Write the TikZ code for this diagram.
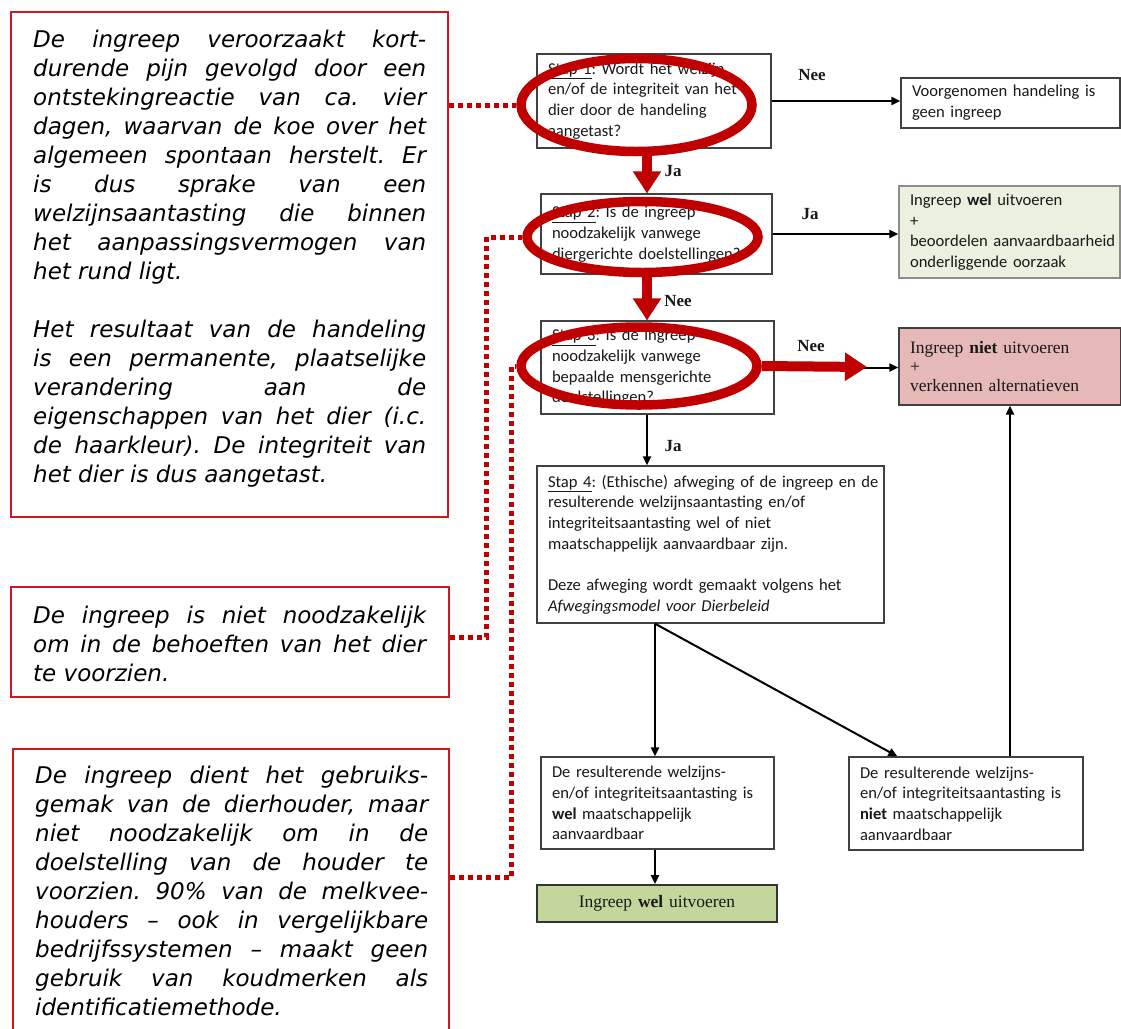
\documentclass[tikz,border=0pt]{standalone}
\usepackage{fontspec}
\setmainfont{Carlito}
\newfontfamily\carlito{Carlito}
\newfontfamily\lserif{Liberation Serif}
\newfontfamily\dvs{DejaVu Sans}
\usetikzlibrary{arrows.meta,shapes.geometric,calc}
\definecolor{dred}{RGB}{192,0,0}
\definecolor{bred}{RGB}{206,24,30}
\definecolor{lgreen}{RGB}{235,241,222}
\definecolor{mgreen}{RGB}{195,214,155}
\definecolor{pinkfill}{RGB}{230,184,183}
\definecolor{txt}{RGB}{25,25,25}
\frenchspacing
\begin{document}
\begin{tikzpicture}[x=1pt,y=-1pt,
  fbox/.style={draw=black!75, line width=1.3pt, text=txt,
    font=\frenchspacing\carlito\fontsize{16.6}{20.7}\selectfont, align=left,
    inner xsep=11pt, inner ysep=0pt, anchor=center},
  lbox/.style={draw=bred, line width=1.8pt, inner sep=0pt, anchor=center},
  ltxt/.style={font=\frenchspacing\dvs\itshape\fontsize{23}{29}\selectfont, text=black,
    text width=393pt, align=justify, inner sep=0pt, anchor=base west},
  arr/.style={draw=black, line width=2pt, -{Triangle[length=9pt,width=8pt]}},
  rarr/.style={draw=dred, line width=10pt, -{Triangle[length=22pt,width=27pt]}},
  ell/.style={ellipse, draw=dred, line width=9.5pt, inner sep=0pt},
  dotc/.style={draw=dred, line width=5pt, dash pattern=on 5pt off 4pt},
  lab/.style={font=\lserif\bfseries\fontsize{17}{19}\selectfont, text=txt, inner sep=0pt}
]
\useasboundingbox (0,0) rectangle (1121,1028);
\fill[white] (0,0) rectangle (1121,1028);

% ---------- left explanation boxes ----------
\node[lbox, minimum width=437pt, minimum height=505pt] (b1) at (229.5,264.5) {};
\node[lbox, minimum width=438pt, minimum height=110pt] (b2) at (230,642) {};
\node[lbox, minimum width=436pt, minimum height=296pt] (b3) at (231,897) {};

\node[ltxt] (t1) at (33,47) {\hyphenpenalty10000 \tolerance10000 \hbadness10000
De ingreep veroorzaakt kort-\linebreak durende pijn gevolgd door een\linebreak
ontstekingreactie van ca. vier\linebreak dagen, waarvan de koe over het\linebreak
algemeen spontaan herstelt. Er\linebreak is dus sprake van een\linebreak
welzijnsaantasting die binnen\linebreak het aanpassingsvermogen van\linebreak
het rund ligt.\par\mbox{}\par
Het resultaat van de handeling\linebreak is een permanente, plaatselijke\linebreak
verandering aan de\linebreak eigenschappen van het dier (i.c.\linebreak
de haarkleur). De integriteit van\linebreak het dier is dus aangetast.};

\node[ltxt] (t2) at (33,623) {\hyphenpenalty10000 \tolerance10000 \hbadness10000
De ingreep is niet noodzakelijk\linebreak om in de behoeften van het dier\linebreak
te voorzien.};

\node[ltxt] (t3) at (35,783) {\hyphenpenalty10000 \tolerance10000 \hbadness10000
De ingreep dient het gebruiks-\linebreak gemak van de dierhouder, maar\linebreak
niet noodzakelijk om in de\linebreak doelstelling van de houder te\linebreak
voorzien. 90\% van de melkvee-\linebreak houders – ook in vergelijkbare\linebreak
bedrijfssystemen – maakt geen\linebreak gebruik van koudmerken als\linebreak
identificatiemethode.};

% ---------- flowchart boxes ----------
\node[fbox, text width=212pt, minimum height=94pt] (s1) at (654,101)
  {\underline{Stap 1}: Wordt het welzijn\\en/of de integriteit van het\\dier door de handeling\\aangetast?};
\node[fbox, text width=209pt, minimum height=80pt] (s2) at (656.5,234)
  {\underline{Stap 2}: Is de ingreep\\noodzakelijk vanwege\\diergerichte doelstellingen?};
\node[fbox, text width=211pt, minimum height=93pt] (s3) at (657.5,367.5)
  {\underline{Stap 3}: Is de ingreep\\noodzakelijk vanwege\\bepaalde mensgerichte\\doelstellingen?};
\node[fbox, text width=325pt, minimum height=157pt] (s4) at (710.5,544.5)
  {\mbox{\underline{Stap 4}: (Ethische) afweging of de ingreep en de}\\resulterende welzijnsaantasting en/of\\integriteitsaantasting wel of niet\\maatschappelijk aanvaardbaar zijn.\\[20.7pt]Deze afweging wordt gemaakt volgens het\\\textit{Afwegingsmodel voor Dierbeleid}};

\node[fbox, text width=197pt, minimum height=50pt] (vg) at (1010.5,103)
  {Voorgenomen handeling is\\geen ingreep};
\node[fbox, fill=lgreen, draw=black!45, text width=199pt, minimum height=92pt] (gr) at (1009.5,232)
  {Ingreep \textbf{wel} uitvoeren\\+\\\leavevmode\rlap{beoordelen aanvaardbaarheid}\\onderliggende oorzaak};
\node[fbox, fill=pinkfill, text width=200pt, minimum height=77pt,
  font=\lserif\fontsize{17.5}{19}\selectfont] (rd) at (1010,366.5)
  {Ingreep \textbf{niet} uitvoeren\\+\\verkennen alternatieven};

\node[fbox, text width=211pt, minimum height=92pt] (wel) at (657.5,803)
  {De resulterende welzijns-\\en/of integriteitsaantasting is\\\textbf{wel} maatschappelijk\\aanvaardbaar};
\node[fbox, text width=212pt, minimum height=93pt] (niet) at (966,803.5)
  {De resulterende welzijns-\\en/of integriteitsaantasting is\\\textbf{niet} maatschappelijk\\aanvaardbaar};
\node[fbox, fill=mgreen, draw=black!80, line width=1.8pt, align=center, text width=218pt,
  minimum height=37pt, font=\lserif\fontsize{17.5}{19}\selectfont] (fin) at (657,903.5)
  {Ingreep \textbf{wel} uitvoeren};

% ---------- black connectors ----------
\coordinate (vx) at (647,0);
\coordinate (vx2) at (655,0);
\draw[arr] (s1.east) -- (s1.east -| vg.west);
\draw[arr] (s1.south -| vx) -- (s2.north -| vx);
\draw[arr] (s2.east) -- (s2.east -| gr.west);
\draw[arr] (s2.south -| vx) -- (s3.north -| vx);
\draw[arr] (s3.east) -- (s3.east -| rd.west);
\draw[arr] (s3.south -| vx) -- (s4.north -| vx);
\draw[arr] (s4.south -| vx2) -- (wel.north -| vx2);
\draw[arr] (s4.south -| vx2) -- ($(niet.north west)+(49,0)$);
\draw[arr] (rd.south |- niet.north) -- (rd.south);
\draw[arr] (wel.south -| vx2) -- (fin.north -| vx2);

\node[lab] (l1) at (812,75) {Nee};
\node[lab] (l2) at (673,171) {Ja};
\node[lab] (l3) at (810,214) {Ja};
\node[lab] (l4) at (678,301) {Nee};
\node[lab] (l5) at (811,346) {Nee};
\node[lab] (l6) at (673,446) {Ja};

% ---------- red highlights ----------
\node[ell, minimum width=231pt, minimum height=93pt] (e1) at (636.5,105) {};
\node[ell, minimum width=231pt, minimum height=71pt] (e2) at (642.5,237) {};
\node[ell, minimum width=236pt, minimum height=78pt] (e3) at (639,366) {};

\coordinate (r3tip) at (867,367);
\draw[rarr] (e1.south -| vx) -- (s2.north -| vx);
\draw[rarr] (e2.south -| vx) -- (s3.north -| vx);
\draw[rarr] (e3.east) -- (r3tip);

% ---------- dotted connectors ----------
\draw[dotc] (e1.west -| b1.east) -- (e1.west);
\draw[dotc] ($(b2.east)+(0,-5)$) -- ++(37,0) |- (e2.west);
\draw[dotc] ($(b3.north east)+(0,129)$) -- ++(62,0) |- (e3.west);
\end{tikzpicture}
\end{document}
